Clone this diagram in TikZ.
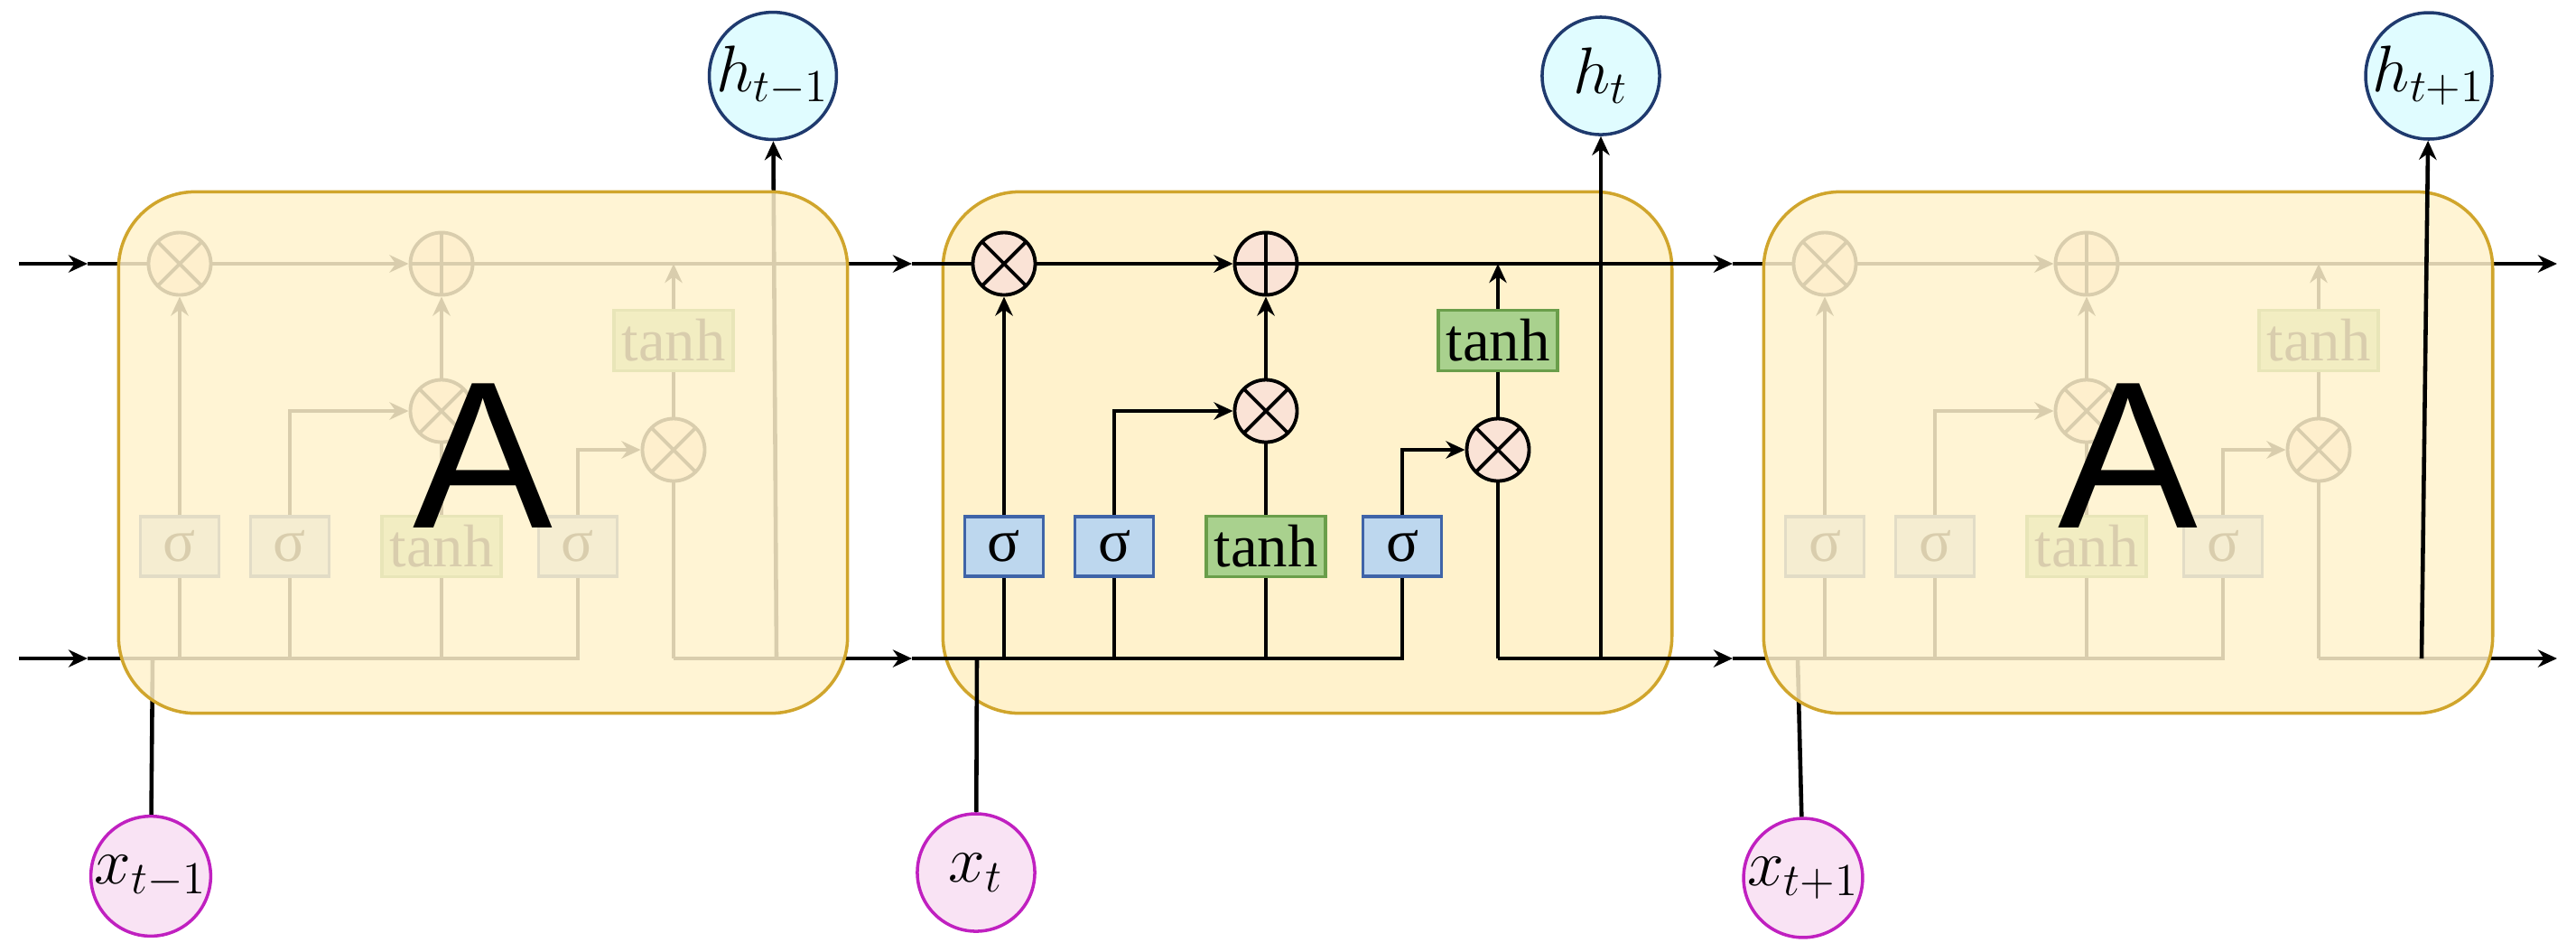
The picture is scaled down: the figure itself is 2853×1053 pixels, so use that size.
\documentclass[tikz,border=0pt]{standalone}
\usepackage{fontspec}
\setmainfont{Liberation Serif}
\newfontfamily\sansA{Liberation Sans}
\newfontfamily\serifT{Liberation Serif}
\usetikzlibrary{arrows.meta}
\definecolor{boxfill}{HTML}{FFF2CC}
\definecolor{boxdraw}{HTML}{D0A52C}
\definecolor{mulfill}{HTML}{FAE3D6}
\definecolor{sigfill}{HTML}{BDD7EE}
\definecolor{sigdraw}{HTML}{3F64A8}
\definecolor{tanfill}{HTML}{A9D18E}
\definecolor{tandraw}{HTML}{6A9E4A}
\definecolor{hfill}{HTML}{E0FCFF}
\definecolor{hdraw}{HTML}{1F3A6E}
\definecolor{xfill}{HTML}{F9E3F4}
\definecolor{xdraw}{HTML}{C020C0}
\tikzset{
  every path/.style={line width=1.3pt},
  arr/.style={-{Stealth[length=6pt,width=5.5pt]}},
  mul/.style={circle,draw,line width=1.1pt,fill=mulfill,minimum size=0.69cm,inner sep=0pt,
    path picture={\draw[line width=1.1pt] (path picture bounding box.south west)--(path picture bounding box.north east)
      (path picture bounding box.north west)--(path picture bounding box.south east);}},
  pls/.style={circle,draw,line width=1.1pt,fill=mulfill,minimum size=0.69cm,inner sep=0pt,
    path picture={\draw[line width=1.1pt] (path picture bounding box.south)--(path picture bounding box.north)
      (path picture bounding box.west)--(path picture bounding box.east);}},
  sig/.style={rectangle,draw=sigdraw,line width=0.9pt,fill=sigfill,minimum width=0.87cm,minimum height=0.66cm,inner sep=0pt,font=\serifT\fontsize{19}{21}\selectfont},
  tanhb/.style={rectangle,draw=tandraw,line width=0.9pt,fill=tanfill,minimum width=1.32cm,minimum height=0.67cm,inner sep=0pt,font=\serifT\fontsize{19}{21}\selectfont},
  cellbox/.style={rectangle,rounded corners=0.85cm,draw=boxdraw,line width=1pt,fill=boxfill},
  hc/.style={circle,draw=hdraw,line width=1pt,fill=hfill,minimum size=1.3cm,inner sep=0pt,font=\fontsize{20}{22}\selectfont},
  xc/.style={circle,draw=xdraw,line width=1pt,fill=xfill,minimum size=1.3cm,inner sep=0pt,font=\fontsize{20}{22}\selectfont},
}
\newcommand\lstminner[2]{%
  \node[mul] (f#2) at ({#1+67},292) {};
  \node[pls] (p#2) at ({#1+357},292) {};
  \node[mul] (i#2) at ({#1+357},455) {};
  \node[mul] (o#2) at ({#1+614},498) {};
  \node[tanhb] (tc#2) at ({#1+614},377) {tanh};
  \node[sig] (sa#2) at ({#1+67},605) {σ};
  \node[sig] (sb#2) at ({#1+189},605) {σ};
  \node[tanhb] (tg#2) at ({#1+357},605) {tanh};
  \node[sig] (sc#2) at ({#1+508},605) {σ};
  \coordinate (in#2) at ({#1-35},729);
  \coordinate (inT#2) at ({#1-35},292);
  \coordinate (ba#2) at ({#1+67},729);
  \coordinate (bb#2) at ({#1+189},729);
  \coordinate (bc#2) at ({#1+357},729);
  \coordinate (bd#2) at ({#1+508},729);
  \coordinate (ob#2) at ({#1+614},729);
  \coordinate (hb#2) at ({#1+728},729);
  \coordinate (xb#2) at ({#1+37},729);
  \coordinate (tj#2) at ({#1+614},292);
  \draw (inT#2) -- (f#2);
  \draw[arr] (f#2) -- (p#2);
  \draw (in#2) -- (bd#2) -- (sc#2);
  \draw (ba#2) -- (sa#2);
  \draw (bb#2) -- (sb#2);
  \draw (bc#2) -- (tg#2);
  \draw[arr] (sa#2) -- (f#2);
  \draw[arr] (sb#2) |- (i#2);
  \draw (tg#2) -- (i#2);
  \draw[arr] (i#2) -- (p#2);
  \draw[arr] (sc#2) |- (o#2);
  \draw (o#2) -- (tc#2);
  \draw[arr] (tc#2) -- (tj#2);
  \draw (o#2) -- (ob#2);
}
\begin{document}
\begin{tikzpicture}[x=0.01cm,y=-0.01cm]
\useasboundingbox (0,0) rectangle (2853,1053);
\coordinate (sT) at (21,292);
\coordinate (sB) at (21,729);
\coordinate (eT) at (2832,292);
\coordinate (eB) at (2832,729);
\node[hc] (h1) at (856,84) {$h_{t-1}$};
\node[hc] (h2) at (1773,84) {$h_t$};
\node[hc] (h3) at (2690,84) {$h_{t+1}$};
\node[xc] (x1) at (167,970) {$x_{t-1}$};
\node[xc] (x2) at (1081,966) {$x_t$};
\node[xc] (x3) at (1997,972) {$x_{t+1}$};
% ---- left cell (faded)
\lstminner{132}{L}
\coordinate (inM) at ({1045-35},729);
\coordinate (inTM) at ({1045-35},292);
\coordinate (inR) at ({1954-35},729);
\coordinate (inTR) at ({1954-35},292);
\draw[arr] (sT) -- (inTL);
\draw[arr] (sB) -- (inL);
\draw[arr] (hbL) -- (h1);
\draw (x1) -- (xbL);
\draw[arr] (pL) -- (inTM);
\draw[arr] (obL) -- (inM);
\node[cellbox,fill opacity=0.85,minimum width=8.07cm,minimum height=5.77cm] (boxL) at ({132+403},501) {};
\node[font=\sansA\fontsize{66}{70}\selectfont] (AL) at (535,505) {A};
% ---- right cell (faded)
\lstminner{1954}{R}
\draw (x3) -- (xbR);
\draw[arr] (pR) -- (eT);
\draw[arr] (obR) -- (eB);
\node[cellbox,fill opacity=0.85,minimum width=8.07cm,minimum height=5.77cm] (boxR) at ({1954+403},501) {};
\node[font=\sansA\fontsize{66}{70}\selectfont] (AR) at (2357,505) {A};
\draw[arr] (hbR) -- (h3);
% ---- middle cell
\node[cellbox,minimum width=8.07cm,minimum height=5.77cm] (boxM) at ({1045+403},501) {};
\lstminner{1045}{M}
\draw[arr] (hbM) -- (h2);
\draw (x2) -- (xbM);
\draw[arr] (pM) -- (inTR);
\draw[arr] (obM) -- (inR);
\end{tikzpicture}
\end{document}
